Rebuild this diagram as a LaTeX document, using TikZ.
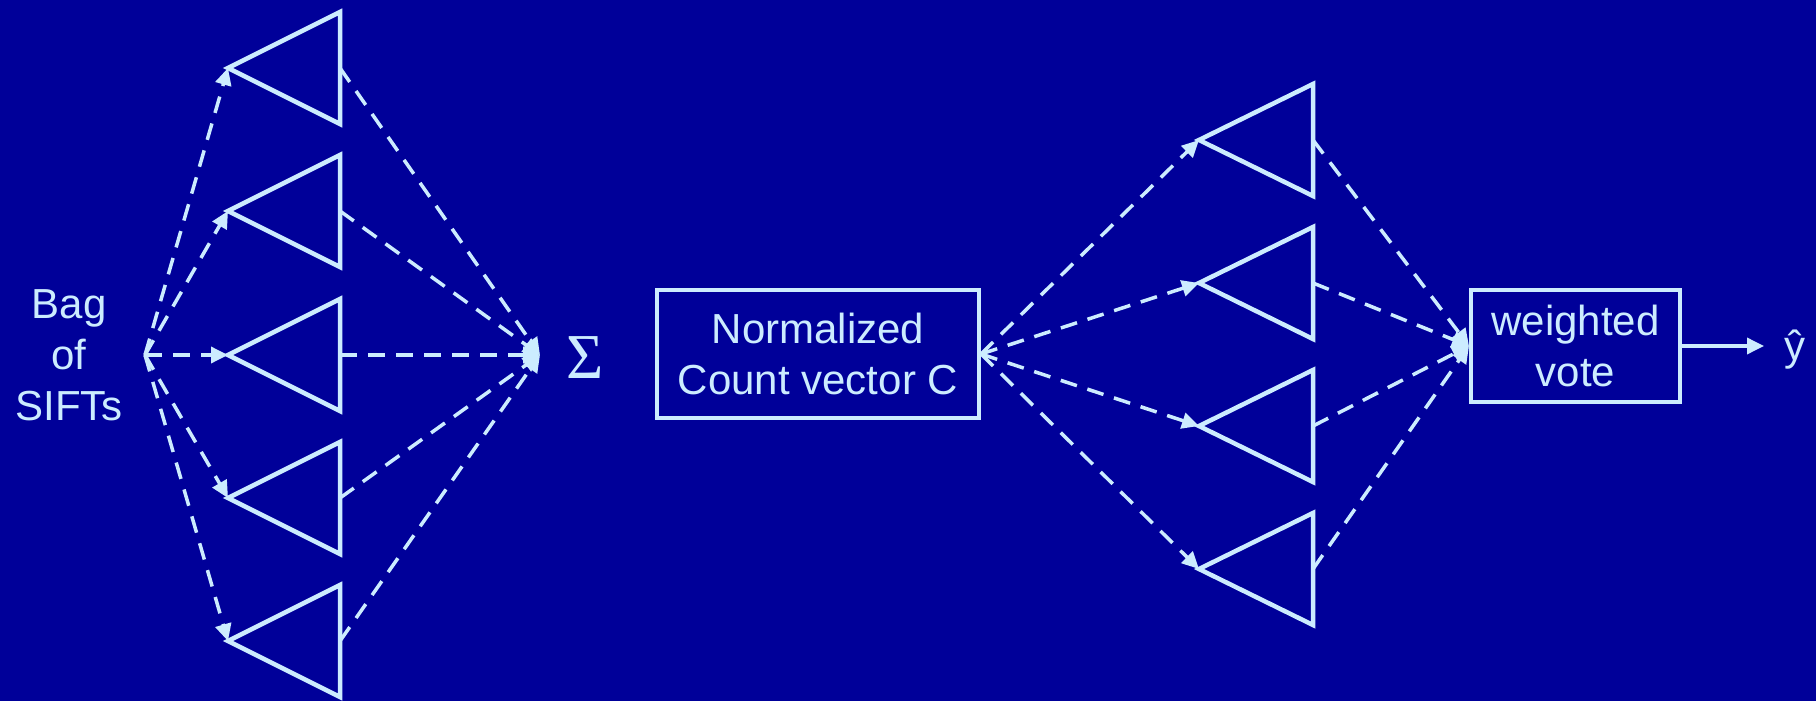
\documentclass[tikz,border=0pt]{standalone}
\usepackage{fontspec}
\setmainfont{Liberation Sans}
\newfontfamily\seriffont{Liberation Serif}
\usetikzlibrary{arrows.meta}
\definecolor{bg}{RGB}{0,0,153}
\definecolor{fg}{RGB}{204,236,255}
\begin{document}
\begin{tikzpicture}[x=1pt,y=-1pt,
  tri/.style={draw=fg, line width=4.5pt, line join=miter},
  dconn/.style={draw=fg, line width=3.5pt, dash pattern=on 17pt off 11pt, -{Triangle[length=17pt,width=16pt]}},
  sconn/.style={draw=fg, line width=3.5pt, -{Triangle[length=17pt,width=16pt]}},
  boxnode/.style={draw=fg, line width=4pt, text=fg, align=center, font=\fontsize{42}{51}\selectfont, inner sep=0pt},
  lbl/.style={text=fg, align=center, font=\fontsize{42}{51}\selectfont, inner sep=0pt}]
\fill[bg] (0,0) rectangle (1816,701);
\useasboundingbox (0,0) rectangle (1816,701);

% left part
\node[lbl] (bag) at (69,355) {Bag\\of\\SIFTs};
\coordinate (B) at (145,355);
\coordinate (S) at (540,355);
\node[text=fg, font=\seriffont\fontsize{64}{64}\selectfont, inner sep=0pt, anchor=base] (sigma) at (585,378) {Σ};
\foreach \i/\ty in {1/68,2/211,3/355,4/498,5/641}{
  \coordinate (L\i) at (228,\ty);
  \coordinate (L\i r) at (340,\ty);
  \draw[tri] (L\i) -- ++(112,-56) -- ++(0,112) -- cycle;
  \draw[dconn] (B) -- (L\i);
  \draw[dconn] (L\i r) -- (S);
}

% middle box
\node[boxnode, minimum width=322pt, minimum height=128pt] (N) at (818,354) {Normalized\\Count vector C};

% right part
\node[boxnode, minimum width=209pt, minimum height=112pt] (V) at (1575.5,346) {weighted\\vote};
\foreach \i/\ty in {1/140,2/283,3/426,4/569}{
  \coordinate (R\i) at (1199,\ty);
  \coordinate (R\i r) at (1313,\ty);
  \draw[tri] (R\i) -- ++(114,-56) -- ++(0,112) -- cycle;
  \draw[dconn] (N.east) -- (R\i);
  \draw[dconn] (R\i r) -- (V.west);
}
\coordinate (Y) at (1764,346);
\draw[sconn] (V.east) -- (Y);
\node[lbl] (yhat) at (1795,350) {ŷ};
\end{tikzpicture}
\end{document}
